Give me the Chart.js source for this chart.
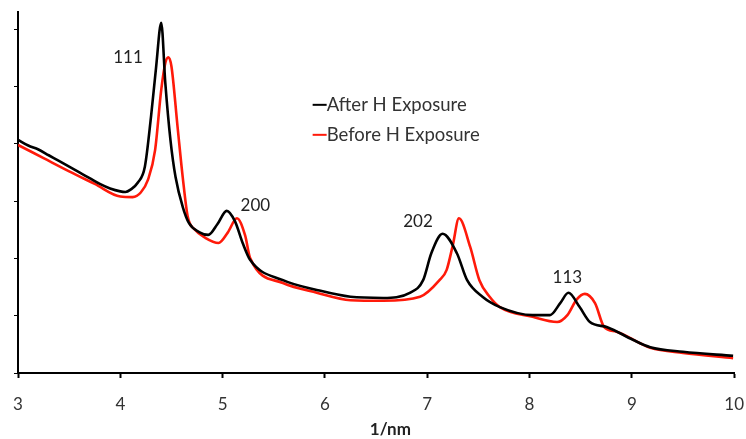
<!DOCTYPE html>
<html>
<head>
<meta charset="utf-8">
<script src="https://cdn.jsdelivr.net/npm/chart.js@4.4.0/dist/chart.umd.min.js"></script>
<style>
  html, body { margin: 0; padding: 0; background: #fff; }
  #wrap { width: 746px; height: 439px; }
</style>
</head>
<body>
<div id="wrap"><canvas id="xrdCanvas" width="746" height="439"></canvas></div>
<script>
// 1/nm positions and intensities
const afterX = [3.0, 3.1, 3.2, 3.3, 3.4, 3.5, 3.6, 3.7, 3.8, 3.9, 4.0, 4.05, 4.1, 4.17, 4.24, 4.30, 4.35, 4.40, 4.44, 4.49, 4.54, 4.61, 4.67, 4.77, 4.86, 4.95, 5.04, 5.12, 5.20, 5.27, 5.59, 5.92, 6.25, 6.57, 6.83, 6.96, 7.04, 7.15, 7.29, 7.39, 7.54, 7.71, 8.03, 8.20, 8.30, 8.38, 8.49, 8.59, 8.76, 9.01, 9.18, 9.50, 9.99];
const afterY = [4.07, 3.97, 3.90, 3.80, 3.70, 3.60, 3.50, 3.40, 3.30, 3.22, 3.17, 3.16, 3.20, 3.32, 3.60, 4.47, 5.34, 6.11, 5.06, 4.07, 3.42, 2.90, 2.62, 2.46, 2.41, 2.60, 2.83, 2.65, 2.25, 1.97, 1.62, 1.45, 1.33, 1.31, 1.40, 1.62, 2.09, 2.43, 2.09, 1.62, 1.33, 1.15, 1.01, 1.01, 1.22, 1.40, 1.15, 0.89, 0.80, 0.58, 0.45, 0.37, 0.30];

const beforeX = [3.0, 3.25, 3.5, 3.75, 4.0, 4.12, 4.2, 4.27, 4.34, 4.40, 4.44, 4.47, 4.50, 4.56, 4.61, 4.66, 4.73, 4.83, 4.96, 5.05, 5.14, 5.22, 5.27, 5.59, 5.92, 6.25, 6.57, 6.93, 7.12, 7.19, 7.25, 7.31, 7.42, 7.51, 7.61, 7.71, 8.03, 8.27, 8.37, 8.46, 8.54, 8.64, 8.73, 8.85, 9.08, 9.18, 9.50, 9.99];
const beforeY = [3.98, 3.75, 3.52, 3.30, 3.08, 3.07, 3.15, 3.37, 3.89, 4.94, 5.41, 5.51, 5.35, 4.29, 3.42, 2.72, 2.50, 2.36, 2.27, 2.45, 2.70, 2.40, 2.00, 1.57, 1.40, 1.27, 1.26, 1.33, 1.62, 1.80, 2.23, 2.70, 2.20, 1.62, 1.33, 1.15, 0.98, 0.89, 1.01, 1.28, 1.38, 1.22, 0.80, 0.72, 0.52, 0.44, 0.35, 0.26];

const seriesNames = ['After H Exposure', 'Before H Exposure'];
const seriesColors = ['#000000', '#ff1a0a'];

// reflection labels: text, x (1/nm), y
const peakLabels = ['111', '200', '202', '113'];
const peakX = [4.075, 5.32, 6.91, 8.37];
const peakY = [5.50, 2.93, 2.64, 1.66];

const xTitle = '1/nm';
const FONT = 'Lato, "Open Sans", sans-serif';
const toPoints = (xs, ys) => xs.map((x, i) => ({ x: x, y: ys[i] }));

const labelPlugin = {
  id: 'peakText',
  afterDatasetsDraw(chart) {
    const ctx = chart.ctx;
    const sx = chart.scales.x, sy = chart.scales.y;
    ctx.save();
    ctx.font = '17px ' + FONT;
    ctx.fillStyle = '#222';
    ctx.textAlign = 'center';
    ctx.textBaseline = 'middle';
    peakLabels.forEach((t, i) => {
      ctx.fillText(t, sx.getPixelForValue(peakX[i]), sy.getPixelForValue(peakY[i]));
    });
    // axis title, sits a bit right of centre in the original
    ctx.font = 'bold 17px ' + FONT;
    ctx.fillText(xTitle, sx.getPixelForValue(6.64), chart.height - 9);
    // legend inside the plot
    const lx = sx.getPixelForValue(5.88);
    const ly = sy.getPixelForValue(4.68);
    ctx.textAlign = 'left';
    ctx.font = '18.5px ' + FONT;
    seriesNames.forEach((name, i) => {
      const y = ly + i * 30;
      ctx.strokeStyle = seriesColors[i];
      ctx.lineWidth = 2;
      ctx.beginPath();
      ctx.moveTo(lx, y);
      ctx.lineTo(lx + 14, y);
      ctx.stroke();
      ctx.fillStyle = '#333';
      ctx.fillText(name, lx + 14, y);
    });
    ctx.restore();
  }
};

new Chart(document.getElementById('xrdCanvas'), {
  type: 'line',
  data: {
    datasets: [
      { label: seriesNames[0], data: toPoints(afterX, afterY), borderColor: seriesColors[0], borderWidth: 2.6, pointRadius: 0, cubicInterpolationMode: 'monotone', fill: false },
      { label: seriesNames[1], data: toPoints(beforeX, beforeY), borderColor: seriesColors[1], borderWidth: 2.6, pointRadius: 0, cubicInterpolationMode: 'monotone', fill: false }
    ]
  },
  options: {
    responsive: false,
    animation: false,
    layout: { padding: { left: 14, right: 0, top: 12, bottom: 7 } },
    plugins: { legend: { display: false }, tooltip: { enabled: false } },
    scales: {
      x: {
        type: 'linear',
        min: 3,
        max: 10,
        ticks: { stepSize: 1, color: '#333', font: { size: 17, family: FONT, lineHeight: '50px' }, padding: 2 },
        grid: { drawOnChartArea: false, color: '#000', tickLength: 5, tickWidth: 2 },
        border: { color: '#000', width: 2 }
      },
      y: {
        min: 0,
        max: 6.3,
        afterBuildTicks: (scale) => { scale.ticks = scale.ticks.filter(t => Number.isInteger(t.value)); },
        ticks: { display: false, stepSize: 1 },
        grid: { drawOnChartArea: false, color: '#000', tickLength: 4, tickWidth: 1 },
        border: { color: '#000', width: 2 }
      }
    }
  },
  plugins: [labelPlugin]
});
</script>
</body>
</html>
